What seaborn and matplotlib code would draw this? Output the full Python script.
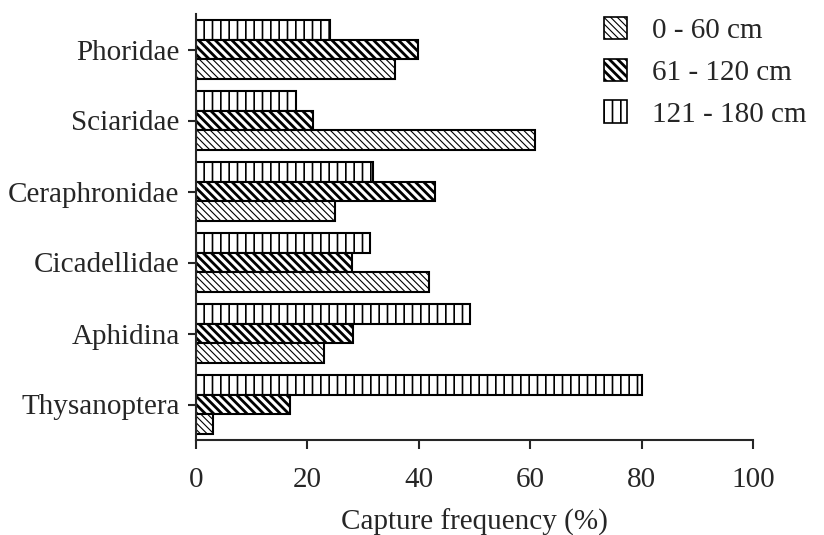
import pandas as pd
import numpy as np
import matplotlib
matplotlib.use('Agg')
import matplotlib.pyplot as plt
import matplotlib.patches as mpatches
import seaborn as sns

# values (capture frequency, %)
taxa = ['Phoridae', 'Sciaridae', 'Ceraphronidae', 'Cicadellidae', 'Aphidina', 'Thysanoptera']
depth_0_60 = [35.8, 60.8, 24.9, 41.8, 23.0, 3.0]
depth_61_120 = [39.9, 21.0, 42.9, 28.0, 28.2, 16.9]
depth_121_180 = [24.1, 18.0, 31.7, 31.3, 49.2, 80.1]
depth_labels = ['0 - 60 cm', '61 - 120 cm', '121 - 180 cm']
x_ticks = [0, 20, 40, 60, 80, 100]

hatches = {'0 - 60 cm': '\\' * 5, '61 - 120 cm': '\\' * 4, '121 - 180 cm': '||'}
hatch_lw = {'0 - 60 cm': 0.8, '61 - 120 cm': 2.0, '121 - 180 cm': 1.2}

df = pd.DataFrame({
    'taxon': taxa * 3,
    'depth': np.repeat(depth_labels, len(taxa)),
    'freq': depth_0_60 + depth_61_120 + depth_121_180,
})

sns.set_style('ticks')
plt.rcParams['font.family'] = ['Liberation Serif', 'DejaVu Serif']
plt.rcParams['axes.linewidth'] = 1.5

fig = plt.figure(figsize=(8.24, 5.35), dpi=100)
ax = fig.add_axes([196 / 824, 1 - 440 / 535, 557 / 824, 426 / 535])

# top bar of each group is the deepest layer
hue_order = depth_labels[::-1]
sns.barplot(data=df, x='freq', y='taxon', hue='depth', order=taxa, hue_order=hue_order,
            palette={d: 'white' for d in depth_labels}, saturation=1, edgecolor='black',
            linewidth=1.5, width=0.82, orient='h', legend=False, ax=ax)

def set_hatch(patch, depth):
    patch.set_hatch(hatches[depth])
    if hasattr(patch, 'set_hatch_linewidth'):
        patch.set_hatch_linewidth(hatch_lw[depth])

for container, depth in zip(ax.containers, hue_order):
    for bar in container:
        set_hatch(bar, depth)

ax.set_xlim(0, 100)
ax.set_xticks(x_ticks)
ax.set_xlabel('Capture frequency (%)', fontsize=21, labelpad=11)
ax.set_ylabel('')
ax.tick_params(axis='x', labelsize=21, length=6.5, width=1.5, pad=13)
ax.tick_params(axis='y', labelsize=21, length=5.8, width=1.5, pad=6)
sns.despine(ax=ax)

handles = [mpatches.Patch(facecolor='white', edgecolor='black', linewidth=1.2) for d in depth_labels]
leg = ax.legend(handles, depth_labels, loc='upper left', bbox_to_anchor=(604 / 824, 0.968),
                bbox_transform=fig.transFigure, frameon=False, borderpad=0, borderaxespad=0,
                handlelength=0.8, handleheight=0.8, handletextpad=0.85, labelspacing=0.49,
                fontsize=21)
for patch, d in zip(leg.get_patches(), depth_labels):
    set_hatch(patch, d)

fig.savefig('out.png', dpi=100)
